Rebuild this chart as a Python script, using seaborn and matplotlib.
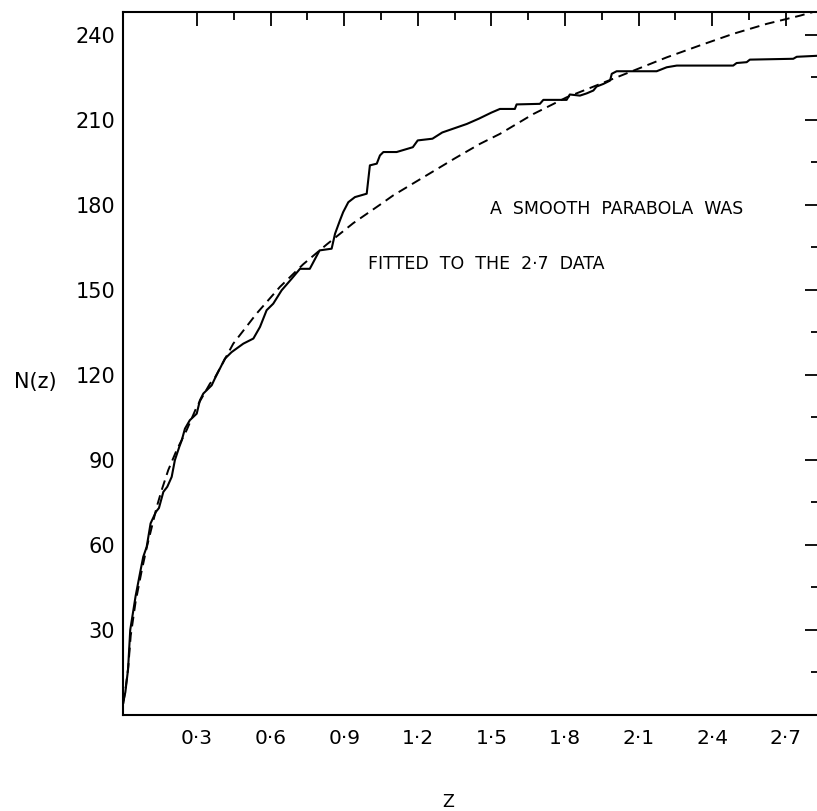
import matplotlib
matplotlib.use("Agg")
import matplotlib.pyplot as plt
import pandas as pd
import seaborn as sns

# Cumulative number counts N(z) (step-like observed curve)
observed_z = [0.0, 0.008, 0.019, 0.028, 0.05, 0.07, 0.081, 0.095, 0.111, 0.133,
              0.145, 0.163, 0.179, 0.197, 0.21, 0.228, 0.238, 0.251, 0.271, 0.299,
              0.312, 0.326, 0.36, 0.373, 0.414, 0.441, 0.489, 0.53, 0.557, 0.584,
              0.611, 0.645, 0.686, 0.72, 0.76, 0.80, 0.849, 0.863, 0.883, 0.896,
              0.917, 0.944, 0.992, 1.005, 1.033, 1.046, 1.06, 1.114, 1.18, 1.2,
              1.26, 1.30, 1.35, 1.40, 1.45, 1.50, 1.535, 1.596, 1.603, 1.698,
              1.712, 1.807, 1.82, 1.861, 1.889, 1.916, 1.929, 1.956, 1.984, 1.991,
              2.011, 2.174, 2.215, 2.256, 2.486, 2.5, 2.541, 2.554, 2.731, 2.745,
              2.84]
observed_n = [5, 8, 16, 30, 42, 51, 55.8, 59.3, 67.6, 71.7,
              73, 78.7, 80.5, 84, 89.9, 94.6, 96.9, 101, 104, 106.3,
              111, 113.4, 116.3, 118.7, 125.7, 128, 131, 132.8, 136.9, 142.8,
              145.1, 149.8, 153.9, 157.4, 157.4, 163.9, 164.5, 169.8, 174.5, 177.4,
              180.9, 182.7, 183.9, 193.9, 194.5, 197.4, 198.6, 198.6, 200.3, 202.7,
              203.3, 205.5, 207, 208.5, 210.4, 212.5, 213.8, 213.8, 215.4, 215.6,
              217, 217, 218.9, 218.5, 219.3, 220.3, 221.7, 222.6, 223.8, 226.2,
              227.1, 227.1, 228.5, 229.1, 229.1, 230, 230.3, 231.2, 231.5, 232.2,
              232.6]

# Smooth fitted curve
fit_z = [0.0, 0.01, 0.02, 0.03, 0.05, 0.075, 0.095, 0.115, 0.136, 0.156,
         0.183, 0.217, 0.258, 0.299, 0.353, 0.373, 0.448, 0.543, 0.638, 0.733,
         0.829, 0.937, 1.046, 1.10, 1.25, 1.35, 1.454, 1.535, 1.671, 1.807,
         1.943, 2.079, 2.215, 2.35, 2.486, 2.622, 2.758, 2.84]
fit_n = [4, 10, 17, 28, 40, 51, 59, 66, 73.4, 79.3,
         86.4, 93.4, 100.5, 108.7, 116.9, 119, 131, 141.6, 151, 159,
         166, 173.5, 180, 183.3, 191.1, 196.3, 201.5, 205, 212, 217.9,
         222.6, 227.3, 232, 236.2, 240.3, 243.8, 246.7, 248.7]

x_major = [0.3, 0.6, 0.9, 1.2, 1.5, 1.8, 2.1, 2.4, 2.7]
x_labels = ["0·3", "0·6", "0·9", "1·2", "1·5", "1·8", "2·1", "2·4", "2·7"]
x_minor = [0.45, 0.75, 1.05, 1.35, 1.65, 1.95, 2.25, 2.55]
y_major = [30, 60, 90, 120, 150, 180, 210, 240]
y_labels = ["30", "60", "90", "120", "150", "180", "210", "240"]
y_minor = [15, 45, 75, 105, 135, 165, 195, 225]

observed = pd.DataFrame({"z": observed_z, "N": observed_n})
fitted = pd.DataFrame({"z": fit_z, "N": fit_n})

sns.set_theme(style="white")
plt.rcParams["font.family"] = ["DejaVu Sans"]

fig = plt.figure(figsize=(8.17, 8.11), dpi=100)
ax = fig.add_axes([0.151, 0.1184, 0.8515, 0.8668])

sns.lineplot(data=observed, x="z", y="N", sort=False, estimator=None,
             color="black", linewidth=1.5, ax=ax)
sns.lineplot(data=fitted, x="z", y="N", sort=False, estimator=None,
             color="black", linewidth=1.4, ax=ax)
ax.lines[-1].set_dashes((5, 3))

ax.set_xlim(0, 2.836)
ax.set_ylim(0, 248)

ax.set_xticks(x_major, x_labels)
ax.set_xticks(x_minor, minor=True)
ax.set_yticks(y_major, y_labels)
ax.set_yticks(y_minor, minor=True)

ax.tick_params(which="both", direction="in", top=True, right=True,
               color="black", width=1.3)
ax.tick_params(which="major", length=10)
ax.tick_params(which="minor", length=6)
ax.tick_params(axis="x", which="major", labelsize=14.5, pad=10)
ax.tick_params(axis="y", which="major", labelsize=15, pad=6)
for lab in ax.get_xticklabels() + ax.get_yticklabels():
    lab.set_color("black")

for side in ["left", "bottom", "top", "right"]:
    ax.spines[side].set_visible(True)
    ax.spines[side].set_color("black")
    ax.spines[side].set_linewidth(1.5)

ax.text(1.494, 178.4, "A  SMOOTH  PARABOLA  WAS", fontsize=12.5,
        ha="left", va="center", color="black")
ax.text(0.997, 159, "FITTED  TO  THE  2·7  DATA", fontsize=12.5,
        ha="left", va="center", color="black")

ax.set_ylabel("N(z)", rotation=0, fontsize=15, color="black",
              ha="center", va="center")
ax.yaxis.set_label_coords(-0.127, 0.4737)
ax.set_xlabel("Z", fontsize=12.5, color="black", va="center")
ax.xaxis.set_label_coords(0.4667, -0.1238)

fig.savefig("out.png", dpi=100, facecolor="white")
